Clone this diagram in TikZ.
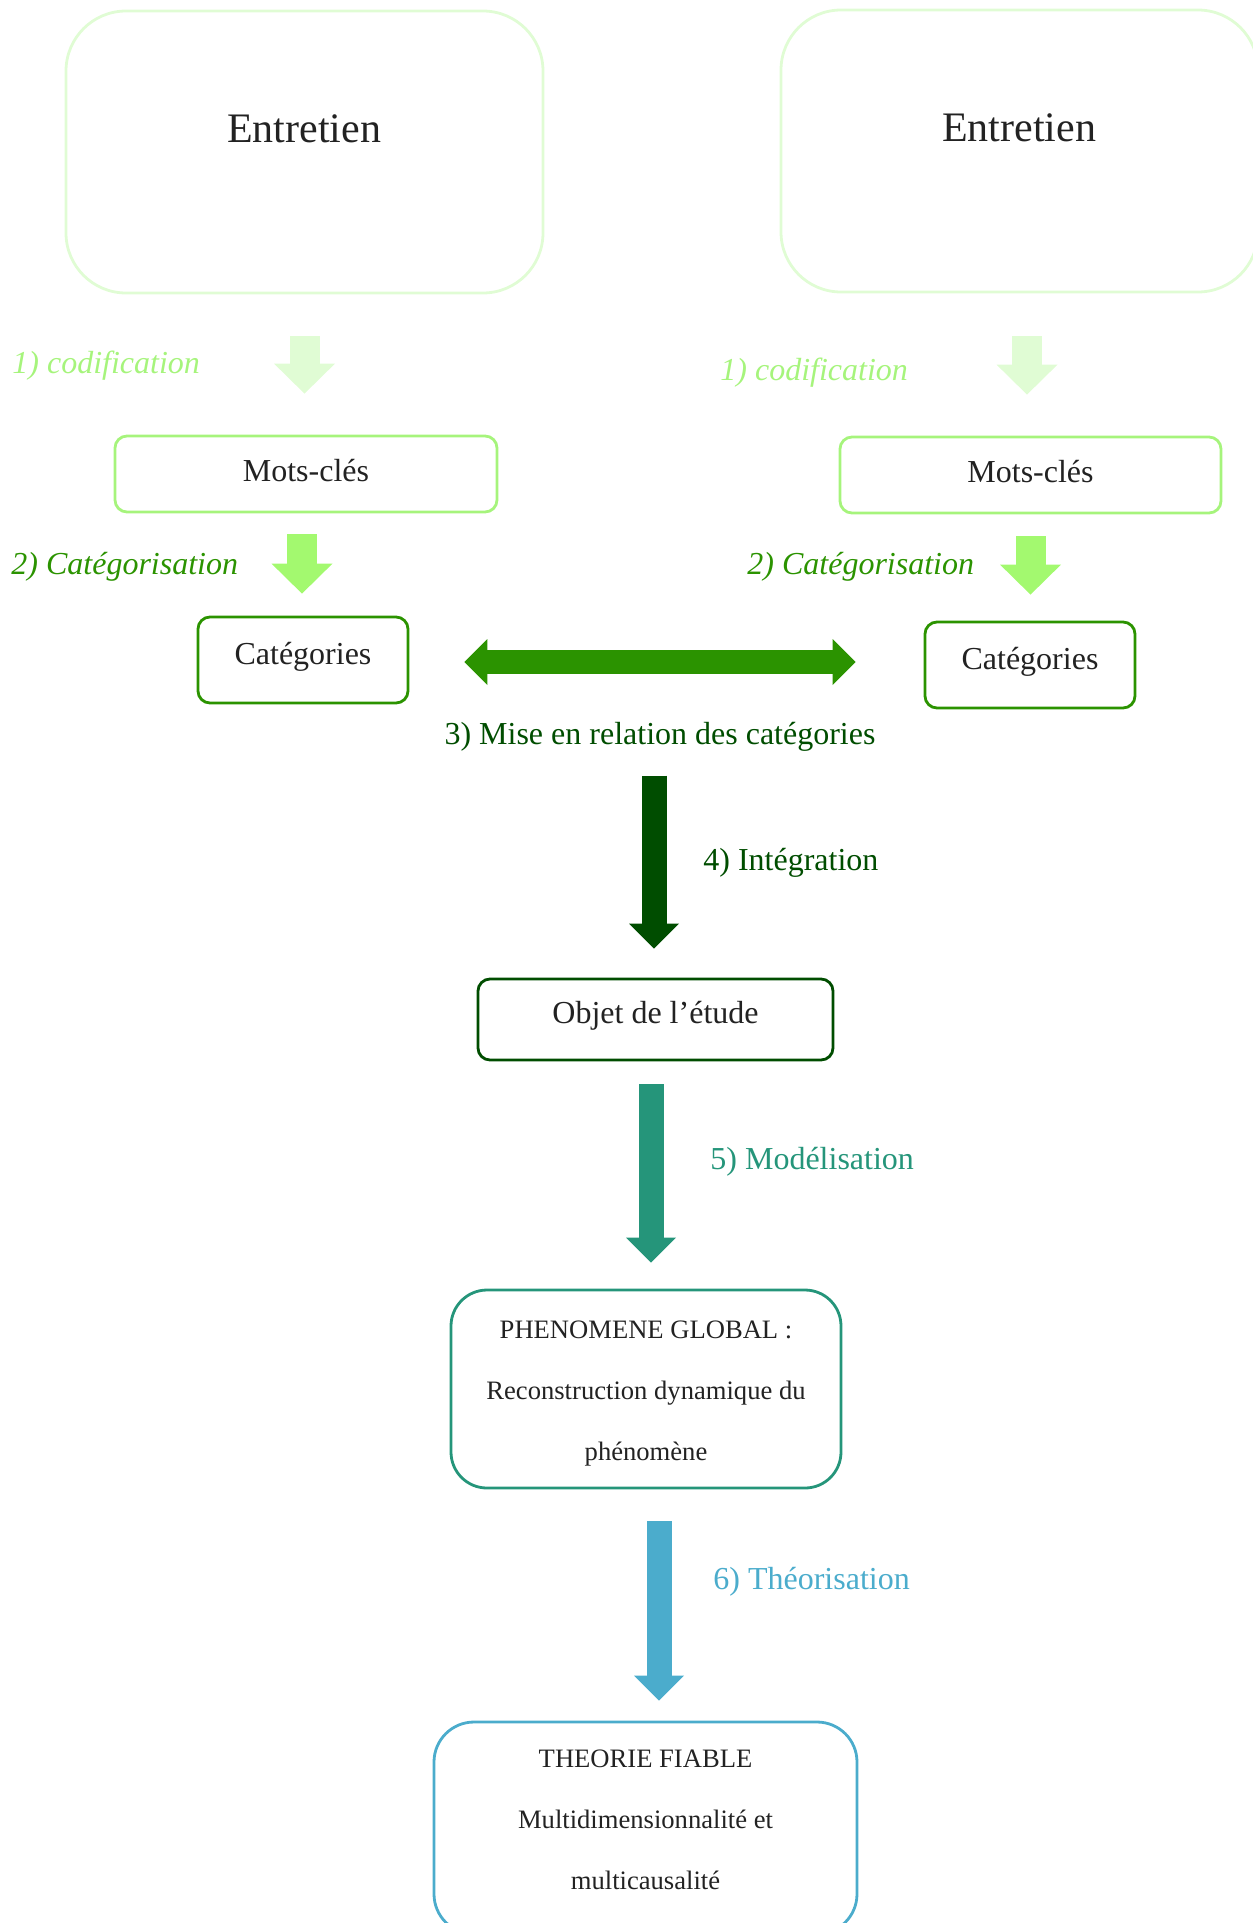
\documentclass[tikz,border=0pt]{standalone}
\usepackage{fontspec}
\setmainfont{Liberation Serif}
\usetikzlibrary{calc,positioning,arrows.meta}

\definecolor{vertpale}{HTML}{E0FCD4}
\definecolor{vertclair}{HTML}{A6F47C}
\definecolor{vertvif}{HTML}{A3F96F}
\definecolor{vertmoyen}{HTML}{2B9300}
\definecolor{vertfonce}{HTML}{004D00}
\definecolor{sarcelle}{HTML}{25957A}
\definecolor{bleuciel}{HTML}{4BACCC}
\definecolor{encre}{HTML}{222222}

\begin{document}
\begin{tikzpicture}[x=0.5pt,y=-0.5pt,
    every node/.style={font=\fontsize{16pt}{19pt}\selectfont},
    boite/.style={draw,rounded corners=6pt,line width=1.4pt,text=encre,inner sep=0pt,text height=11pt,text depth=7pt},
    grande/.style={boite,draw=vertpale,rounded corners=30pt,minimum width=238.5pt,minimum height=141pt},
    etape/.style={anchor=west,inner sep=0pt},
    longue/.style={font=\fontsize{13.3pt}{30.5pt}\selectfont,align=center,text=encre},
    grosse/.style={line width=15pt,-{Triangle[width=30.5pt 0 0,length=15pt 0 0,line width=0pt 0 0]}},
    mince/.style={line width=12.5pt,-{Triangle[width=25pt 0 0,length=12.5pt 0 0,line width=0pt 0 0]}},
  ]
  \useasboundingbox (0,0) rectangle (1253,1923);
  % les deux entretiens
  \node[grande] (ent1) at (304.5,152) {};
  \node[text=encre,font=\fontsize{21pt}{25pt}\selectfont] (ent1t) at (304,129) {Entretien};
  \node[grande] (ent2) at (1019.5,151) {};
  \node[text=encre,font=\fontsize{21pt}{25pt}\selectfont] (ent2t) at (1019,128) {Entretien};

  \node[etape,text=vertclair,font=\fontsize{16pt}{19pt}\itshape] (cod1) at (12,366) {1) codification};
  \node[etape,text=vertclair,font=\fontsize{16pt}{19pt}\itshape] (cod2) at (720,373) {1) codification};

  \node[boite,draw=vertclair,minimum width=191pt,minimum height=38pt,text depth=3.5pt] (mots1) at (306,474) {Mots-clés};
  \node[boite,draw=vertclair,minimum width=190.5pt,minimum height=38pt,text depth=3.5pt] (mots2) at (1030.5,475) {Mots-clés};

  \draw[grosse,vertpale] ($(ent1.south)+(0,42)$) -- ($(mots1.north -| ent1.south)+(0,-41)$);
  \draw[grosse,vertpale] ($(ent2.south)+(7.5,43)$) -- ($(mots2.north -| ent2.south)+(7.5,-41)$);

  \node[etape,text=vertmoyen,font=\fontsize{16pt}{19pt}\itshape] (cat1t) at (11,567) {2) Catégorisation};
  \node[etape,text=vertmoyen,font=\fontsize{16pt}{19pt}\itshape] (cat2t) at (747,567) {2) Catégorisation};

  \node[boite,draw=vertmoyen,minimum width=105pt,minimum height=43pt] (cat1) at (303,660) {Catégories};
  \node[boite,draw=vertmoyen,minimum width=105pt,minimum height=43pt] (cat2) at (1030,665) {Catégories};

  \draw[grosse,vertvif] ($(mots1.south)+(-4,21)$) -- ($(cat1.north -| mots1.south)+(-4,-22)$);
  \draw[grosse,vertvif] ($(mots2.south)+(0,22)$) -- ($(cat2.north -| mots2.south)+(0,-26)$);

  % mise en relation
  \draw[line width=12pt,vertmoyen,{Triangle[width=23pt 0 0,length=11.5pt 0 0,line width=0pt 0 0]}-{Triangle[width=23pt 0 0,length=11.5pt 0 0,line width=0pt 0 0]}]
    ($(cat1.east)+(55,2)$) -- ($(cat2.west)+(-68,-3)$);
  \node[text=vertfonce] (rel) at (660,737) {3) Mise en relation des catégories};

  \node[boite,draw=vertfonce,minimum width=177.5pt,minimum height=40.5pt] (objet) at (655.5,1019.5) {Objet de l’étude};
  \draw[mince,vertfonce] ($(rel.south)+(-6,17)$) -- ($(objet.north -| rel.south)+(-6,-29)$);
  \node[etape,text=vertfonce] (integ) at (703,863) {4) Intégration};

  \node[boite,draw=sarcelle,rounded corners=18pt,minimum width=195pt,minimum height=99pt] (phen) at (646,1389) {};
  \node[longue] (phent) at (646,1394) {PHENOMENE GLOBAL :\\Reconstruction dynamique du\\phénomène};
  \draw[mince,sarcelle] ($(objet.south)+(-4.5,23)$) -- ($(phen.north -| objet.south)+(-4.5,-26)$);
  \node[etape,text=sarcelle] (model) at (710,1162) {5) Modélisation};

  \node[boite,draw=bleuciel,rounded corners=20pt,minimum width=211.5pt,minimum height=106pt] (theo) at (645.5,1828) {};
  \node[longue] (theot) at (645.5,1820) {THEORIE FIABLE\\Multidimensionnalité et\\multicausalité};
  \draw[mince,bleuciel] ($(phen.south)+(13,32)$) -- ($(theo.north -| phen.south)+(13,-20)$);
  \node[etape,text=bleuciel] (theor) at (713,1582) {6) Théorisation};
\end{tikzpicture}
\end{document}
